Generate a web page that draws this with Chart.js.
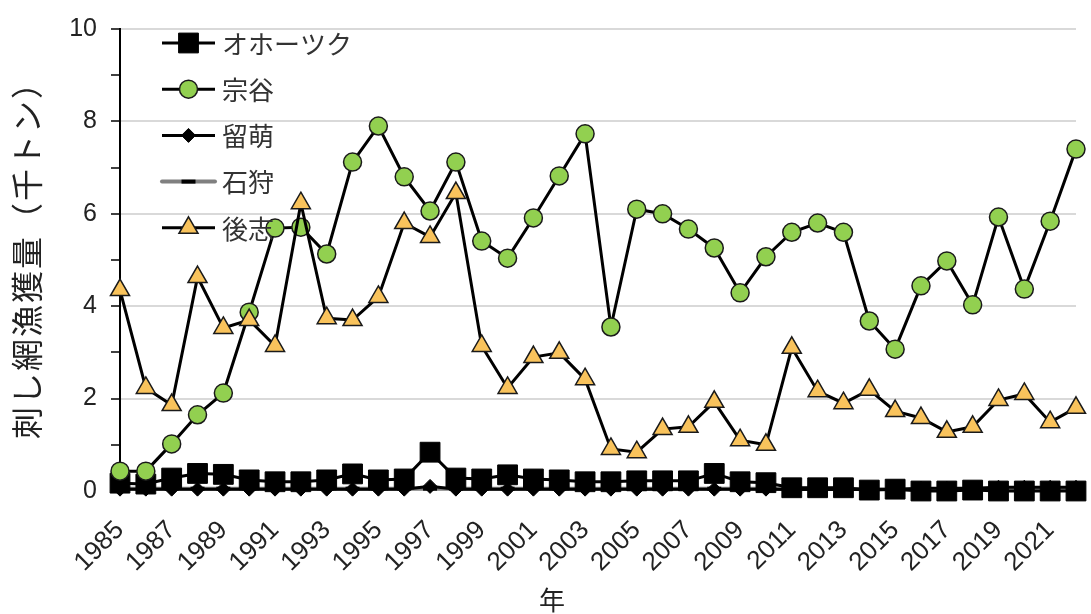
<!DOCTYPE html>
<html>
<head>
<meta charset="utf-8">
<script src="https://cdn.jsdelivr.net/npm/chart.js@4.4.1/dist/chart.umd.min.js"></script>
<style>
  html, body { margin: 0; padding: 0; background: #fff; }
  #wrap { position: relative; width: 1091px; height: 614px; }
</style>
</head>
<body>
<div id="wrap"><canvas id="chart"></canvas></div>
<script>
// 年
const years = ['1985','1986','1987','1988','1989','1990','1991','1992','1993','1994',
  '1995','1996','1997','1998','1999','2000','2001','2002','2003','2004',
  '2005','2006','2007','2008','2009','2010','2011','2012','2013','2014',
  '2015','2016','2017','2018','2019','2020','2021','2022'];

// 刺し網漁獲量（千トン）
const okhotsk = [0.17,0.15,0.28,0.38,0.36,0.24,0.20,0.20,0.24,0.37,
  0.24,0.26,0.84,0.28,0.26,0.35,0.26,0.24,0.20,0.20,
  0.22,0.22,0.22,0.38,0.20,0.18,0.07,0.07,0.07,0.02,
  0.04,0.00,0.00,0.02,0.00,0.00,0.00,0.00];
const soya = [0.43,0.43,1.02,1.65,2.12,3.87,5.69,5.71,5.13,7.12,
  7.90,6.80,6.06,7.12,5.41,5.04,5.91,6.82,7.73,3.55,
  6.10,6.00,5.67,5.26,4.29,5.07,5.60,5.80,5.60,3.68,
  3.07,4.44,4.98,4.03,5.93,4.37,5.84,7.40];
const rumoi = [0.04,0.04,0.04,0.04,0.04,0.04,0.04,0.04,0.04,0.04,
  0.04,0.04,0.10,0.04,0.04,0.04,0.04,0.04,0.04,0.04,
  0.04,0.04,0.04,0.04,0.04,0.04,0.03,0.03,0.03,0.03,
  0.03,0.06,0.06,0.06,0.08,0.08,0.08,0.08];
const ishikari = [0.05,0.05,0.05,0.05,0.05,0.05,0.05,0.05,0.05,0.05,
  0.05,0.05,0.05,0.05,0.05,0.05,0.05,0.05,0.05,0.05,
  0.05,0.05,0.05,0.05,0.05,0.05,0.05,0.05,0.05,0.04,
  0.04,0.04,0.04,0.04,0.04,0.04,0.04,0.04];
const shiribeshi = [4.35,2.23,1.86,4.63,3.53,3.70,3.14,6.23,3.74,3.70,
  4.20,5.80,5.50,6.45,3.14,2.23,2.90,2.99,2.42,0.91,
  0.84,1.34,1.39,1.93,1.10,1.00,3.10,2.16,1.90,2.19,
  1.73,1.58,1.28,1.39,1.97,2.10,1.49,1.80];

const yTitle = '刺し網漁獲量（千トン）';
const xTitle = '年';
const jpFont = "'Noto Sans CJK JP', 'Noto Sans', sans-serif";

Chart.defaults.font.family = "'Liberation Sans', Arial, sans-serif";
Chart.defaults.color = '#222';

// legend inside the plot area, plus the axis titles (Excel-like placement)
const insideLegend = {
  id: 'insideLegend',
  afterDraw(chart) {
    const ctx = chart.ctx;
    const area = chart.chartArea;
    const x0 = area.left + 42;
    const x1 = area.left + 95;
    const xm = (x0 + x1) / 2;
    ctx.save();
    chart.data.datasets.forEach((ds, i) => {
      const y = area.top + 14 + i * 46.2;
      ctx.lineCap = ds.legendCap || 'butt';
      ctx.strokeStyle = ds.borderColor;
      ctx.lineWidth = ds.borderWidth;
      ctx.beginPath();
      ctx.moveTo(x0, y);
      ctx.lineTo(x1, y);
      ctx.stroke();
      ctx.lineCap = 'butt';
      ctx.fillStyle = ds.pointBackgroundColor;
      ctx.strokeStyle = ds.pointBorderColor;
      ctx.lineWidth = ds.pointBorderWidth;
      Chart.helpers.drawPoint(ctx, {
        pointStyle: ds.pointStyle,
        radius: ds.pointRadius,
        borderWidth: ds.pointBorderWidth,
        rotation: 0
      }, xm, y);
      ctx.fillStyle = '#333';
      ctx.font = '26px ' + jpFont;
      ctx.textAlign = 'left';
      ctx.textBaseline = 'middle';
      ctx.fillText(ds.label, x1 + 7, y + 1);
    });

    ctx.fillStyle = '#222';
    ctx.font = '26px ' + jpFont;
    ctx.textAlign = 'center';
    ctx.textBaseline = 'middle';
    ctx.fillText(xTitle, 552, 600);

    // y title, slightly spaced out like the original
    ctx.save();
    ctx.translate(27, 253);
    ctx.rotate(-Math.PI / 2);
    ctx.font = '32px ' + jpFont;
    if ('letterSpacing' in ctx) ctx.letterSpacing = '2px';
    ctx.fillText(yTitle, 1, 0);
    ctx.restore();

    ctx.restore();
  }
};

const datasets = [
  {
    label: 'オホーツク', data: okhotsk, order: 2,
    borderColor: '#000', borderWidth: 3,
    pointStyle: 'rect', pointRadius: 14, pointBackgroundColor: '#000',
    pointBorderColor: '#000', pointBorderWidth: 1
  },
  {
    label: '宗谷', data: soya, order: 1,
    borderColor: '#000', borderWidth: 3,
    pointStyle: 'circle', pointRadius: 9, pointBackgroundColor: '#92d050',
    pointBorderColor: '#1a1a1a', pointBorderWidth: 1.5
  },
  {
    label: '留萌', data: rumoi, order: 3,
    borderColor: '#000', borderWidth: 3,
    pointStyle: 'rectRot', pointRadius: 7, pointBackgroundColor: '#000',
    pointBorderColor: '#000', pointBorderWidth: 1
  },
  {
    label: '石狩', data: ishikari, order: 4, legendCap: 'round',
    borderColor: '#808080', borderWidth: 4,
    pointStyle: 'line', pointRadius: 7, pointBackgroundColor: '#000',
    pointBorderColor: '#000', pointBorderWidth: 4
  },
  {
    label: '後志', data: shiribeshi, order: 0,
    borderColor: '#000', borderWidth: 3,
    pointStyle: 'triangle', pointRadius: 11, pointBackgroundColor: '#f9c35c',
    pointBorderColor: '#1a1a1a', pointBorderWidth: 1.5
  }
];

datasets.forEach(ds => {
  ds.tension = 0;
  ds.fill = false;
  ds.clip = false;
  ds.pointHoverRadius = ds.pointRadius;
});

new Chart(document.getElementById('chart'), {
  type: 'line',
  data: { labels: years, datasets },
  options: {
    responsive: true,
    maintainAspectRatio: false,
    animation: false,
    events: [],
    layout: { padding: { top: 29, right: 10, left: 0, bottom: 0 } },
    plugins: {
      legend: { display: false },
      tooltip: { enabled: false }
    },
    scales: {
      x: {
        type: 'category',
        offset: false,
        grid: { display: false, drawTicks: false },
        border: { display: false },
        ticks: {
          autoSkip: false,
          maxRotation: 45,
          minRotation: 45,
          padding: 24,
          font: { size: 26 },
          color: '#222',
          callback: function (v, i) { return i % 2 === 0 ? this.getLabelForValue(v) : ''; }
        },
        afterFit(scale) {
          scale.height = 123;
          scale.paddingLeft = 0;
          scale.paddingRight = 0;
        }
      },
      y: {
        min: 0,
        max: 10,
        grid: {
          color: c => (c.tick && c.tick.value % 2 === 0 && c.tick.value > 0) ? '#d9d9d9' : 'rgba(0,0,0,0)',
          lineWidth: 2,
          tickColor: '#000',
          tickWidth: 1.5,
          tickLength: 9,
          drawTicks: true
        },
        border: { display: true, color: '#000', width: 2 },
        ticks: {
          stepSize: 1,
          padding: 14,
          font: { size: 25 },
          color: '#222',
          callback: v => (v % 2 === 0 ? v : '')
        },
        afterFit(scale) { scale.width = 120; }
      }
    }
  },
  plugins: [insideLegend]
});
</script>
</body>
</html>
